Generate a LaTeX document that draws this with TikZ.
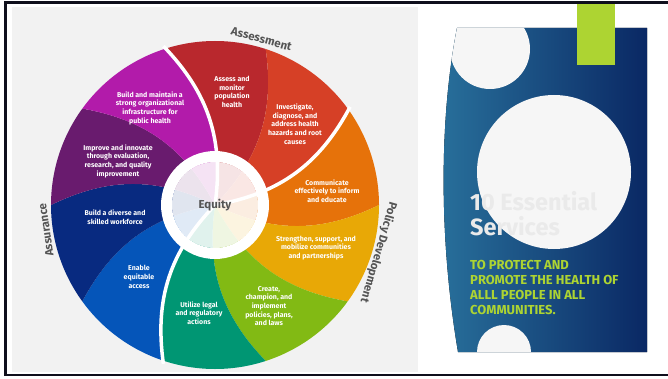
\documentclass[tikz,border=0pt]{standalone}
\usepackage{fontspec}
\setsansfont{Fira Sans}
\usepackage{tikz}
\usetikzlibrary{positioning}
\definecolor{red1}{RGB}{185, 40, 45}
\definecolor{red2}{RGB}{214, 64, 38}
\definecolor{org}{RGB}{230, 114, 10}
\definecolor{gold}{RGB}{232, 168, 6}
\definecolor{grn}{RGB}{130, 186, 20}
\definecolor{teal}{RGB}{0, 150, 115}
\definecolor{blu}{RGB}{5, 85, 185}
\definecolor{navy}{RGB}{8, 42, 128}
\definecolor{purp}{RGB}{105, 27, 110}
\definecolor{mag}{RGB}{178, 27, 170}
\definecolor{panel}{RGB}{242, 242, 242}
\definecolor{ink}{RGB}{85, 85, 85}
\definecolor{frame}{RGB}{15, 15, 28}
\definecolor{lime}{RGB}{173, 212, 50}
\definecolor{cardlt}{RGB}{40, 112, 155}
\definecolor{carddk}{RGB}{10, 40, 100}
\definecolor{blob}{RGB}{246, 246, 246}
\definecolor{ghost}{RGB}{234, 234, 234}

\begin{document}
\begin{tikzpicture}[
    x=1pt, y=1pt,
    seg/.style={text=white, align=center, inner sep=0pt,
      font=\sffamily\bfseries\fontsize{7}{8.7}\selectfont},
    group/.style={text=ink, inner sep=0pt,
      font=\sffamily\bfseries\fontsize{11.5}{13}\selectfont},
    gap/.style={white, line width=3.5pt},
    head/.style={text=ghost, anchor=base west, inner sep=0pt,
      font=\sffamily\bfseries\fontsize{23.5}{25}\selectfont}
  ]
  \useasboundingbox (0,0) rectangle (668,378);
  \fill[panel] (12,6) rectangle (418,371);
  \begin{scope}[shift={(215,173)}]
    \foreach \a/\c in {72/red1, 36/red2, 0/org, -36/gold, -72/grn,
        -108/teal, -144/blu, -180/navy, -216/purp, -252/mag} {
      \fill[\c] (0,0) to[bend right=26] (\a:164)
        arc[start angle=\a, end angle=\a+36, radius=164]
        to[bend left=26] (0,0);
    }
    \fill[white, opacity=0.88] (0,0) circle (43);
    \fill[white, even odd rule] (0,0) circle (54) circle (43);
    \foreach \a in {108, 36, -108} {
      \draw[gap] (0,0) to[bend right=26] (\a:167);
    }
    \node[text=ink, font=\sffamily\bfseries\fontsize{11.5}{13}\selectfont] (eq) at (0,0) {Equity};
  \end{scope}

  \node[seg] (s1) at (232,286) {Assess and\\monitor\\population\\health};
  \node[seg] (s2) at (295,254) {Investigate,\\diagnose, and\\address health\\hazards and root\\causes};
  \node[seg] (s3) at (327,187) {Communicate\\effectively to inform\\and educate};
  \node[seg] (s4) at (316,130) {Strengthen, support, and\\mobilize communities\\and partnerships};
  \node[seg] (s5) at (269,72) {Create,\\champion, and\\implement\\policies, plans,\\and laws};
  \node[seg] (s6) at (199,65) {Utilize legal\\and regulatory\\actions};
  \node[seg] (s7) at (139,101) {Enable\\equitable\\access};
  \node[seg] (s8) at (115,161) {Build a diverse and\\skilled workforce};
  \node[seg] (s9) at (118,217) {Improve and innovate\\through evaluation,\\research, and quality\\improvement};
  \node[seg] (s10) at (150,270) {Build and maintain a\\strong organizational\\infrastructure for\\public health};

  \node[group, rotate=-15.6] (assess) at (261.5,339) {Assessment};
  \node[group, rotate=-106.3] (policy) at (378.5,125.5) {Policy Development};
  \node[group, rotate=98.4] (assure) at (46,148) {Assurance};

  \fill[left color=cardlt, right color=carddk]
    (458,26) .. controls (439,138) and (439,258) .. (457,350)
    -- (647,350) -- (647,26) -- cycle;
  \begin{scope}
    \clip (458,26) .. controls (439,138) and (439,258) .. (457,350)
      -- (647,350) -- (647,26) -- cycle;
    \fill[blob] (490,329) circle (40);
    \fill[blob] (554,206) circle (77);
    \fill[blob] (504,26) circle (27);
  \end{scope}
  \fill[lime] (577,313) rectangle (615,375);
  \node[head] (title) at (470,168) {10 Essential};
  \node[head] (title2) at (470,143) {Services};
  \node[text=lime, align=left, anchor=north west, inner sep=0pt,
    font=\sffamily\bfseries\fontsize{13}{15}\selectfont] (motto) at (470,117.5)
    {TO PROTECT AND\\PROMOTE THE HEALTH OF\\ALLL PEOPLE IN ALL\\COMMUNITIES.};

  \fill[frame] (4,374) rectangle (668,376.5);
  \fill[frame] (4,2) rectangle (668,4.5);
  \fill[frame] (4,2) rectangle (6.5,376.5);
\end{tikzpicture}
\end{document}
